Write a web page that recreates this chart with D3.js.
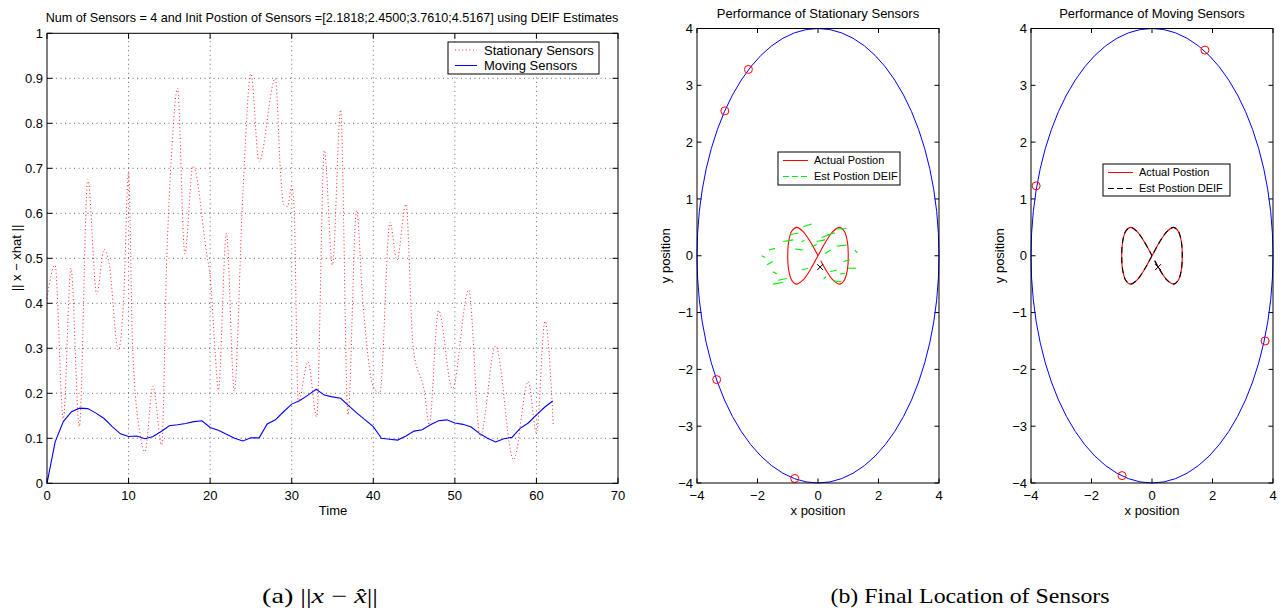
<!DOCTYPE html>
<html><head><meta charset="utf-8">
<script src="https://cdn.jsdelivr.net/npm/d3@7"></script>
<style>
body{margin:0;background:#fff}
svg{display:block}
text{font-family:"Liberation Sans",Arial,Helvetica,sans-serif;fill:#000}
</style>
</head><body>
<svg id="c" width="1281" height="611"></svg>
<script>
// ---------- DATA ----------
const leftXTicks = [0,10,20,30,40,50,60,70];
const leftYTicks = [0,0.1,0.2,0.3,0.4,0.5,0.6,0.7,0.8,0.9,1];
const posTicksX = [-4,-2,0,2,4];
const posTicksY = [-4,-3,-2,-1,0,1,2,3,4];

// Moving sensors error, one value per time step 0..62
const movingV = [0,0.092,0.137,0.159,0.167,0.166,0.156,0.144,0.126,0.11,0.104,0.105,0.099,0.104,0.115,0.128,0.13,0.133,0.137,0.139,0.124,0.118,0.109,0.100,0.094,0.101,0.101,0.132,0.141,0.159,0.176,0.184,0.196,0.209,0.196,0.192,0.189,0.172,0.156,0.141,0.126,0.100,0.098,0.096,0.105,0.116,0.119,0.130,0.139,0.141,0.134,0.131,0.125,0.111,0.100,0.092,0.099,0.102,0.122,0.134,0.152,0.169,0.183];

// Stationary sensors error (time, value) read at turning points
const stationaryT = [0,0.98,2.0,2.94,3.96,5.0,6.1,7.0,7.6,8.75,9.4,10.0,10.5,11.4,12.0,13.0,14.06,14.7,15.3,16.0,16.9,17.9,19.6,20.0,20.6,21.0,22.0,22.96,24.0,25.0,26.0,28.0,28.6,29.0,29.5,30.0,30.3,30.8,32.0,33.06,34.0,35.0,36.0,36.9,37.95,38.7,40.0,40.8,42.05,42.9,44.0,44.9,46.3,46.85,48.0,49.7,51.7,53.1,55.0,57.2,59.0,60.0,61.05,62.07];
const stationaryV = [0.41,0.485,0.144,0.478,0.126,0.675,0.42,0.52,0.49,0.296,0.41,0.69,0.30,0.11,0.07,0.216,0.085,0.51,0.74,0.878,0.51,0.705,0.507,0.46,0.296,0.207,0.556,0.205,0.64,0.91,0.715,0.90,0.70,0.62,0.615,0.66,0.61,0.18,0.27,0.148,0.74,0.485,0.83,0.152,0.607,0.41,0.215,0.2,0.58,0.496,0.62,0.30,0.2,0.13,0.384,0.21,0.43,0.104,0.305,0.052,0.226,0.112,0.36,0.13];

// Actual target trajectory (figure eight)
const actualX = [0.09,0.26,0.5,0.71,0.87,0.97,1.0,0.97,0.87,0.71,0.5,0.26,0,-0.26,-0.5,-0.71,-0.87,-0.97,-1.0,-0.97,-0.87,-0.71,-0.5,-0.26,0];
const actualY = [-0.09,-0.25,-0.43,-0.5,-0.43,-0.25,0,0.25,0.43,0.5,0.43,0.25,0,-0.25,-0.43,-0.5,-0.43,-0.25,0,0.25,0.43,0.5,0.43,0.25,0];

// DEIF estimate with stationary sensors: visible dash pieces (x1,y1,x2,y2)
const estStatSegs = [
 [-0.49,0.51,-0.21,0.56],[-0.93,0.37,-0.65,0.40],[-1.15,0.25,-0.82,0.28],[-1.62,0.10,-1.42,0.13],
 [-1.86,0.0,-1.75,-0.03],[-1.68,-0.16,-1.5,-0.10],[-1.49,-0.28,-1.36,-0.32],[-1.32,-0.43,-1.03,-0.40],
 [-1.49,-0.50,-1.16,-0.47],[-0.76,0.12,-0.49,0.10],[-0.54,-0.25,-0.32,-0.22],[-0.55,0.25,-0.45,0.27],
 [-0.21,0.16,-0.04,0.2],[-0.04,0.25,0.23,0.28],[0.12,0.32,0.37,0.37],[0.31,0.37,0.56,0.40],
 [0.62,0.47,0.95,0.48],[0.23,0.04,0.42,0.10],[0.62,0.17,0.95,0.19],[1.22,0.10,1.30,0.05],
 [0.84,-0.10,1.06,-0.07],[1.0,-0.22,1.26,-0.22],[0.40,-0.28,0.62,-0.25],[0.18,-0.41,0.26,-0.37],
 [0.51,-0.44,0.78,-0.46],[0.73,-0.32,0.89,-0.31]
];
const estStatFinal = [0.07,-0.2];
const estMovFinal = [0.2,-0.2];

// Sensor final positions
const statSensorX = [-2.30,-3.08,-3.35,-0.77];
const statSensorY = [3.28,2.55,-2.18,-3.92];
const movSensorX = [1.75,-3.83,3.74,-0.99];
const movSensorY = [3.62,1.23,-1.50,-3.87];
const circleR = 4;

// ---------- DRAW ----------
const svg = d3.select("#c");
const FS = 13;
const minus = v => String(v).replace("-", "\u2212");

function frame(g, x, y, xt, yt, tl, grid, fx, fy) {
  const [x0,x1] = x.range(), [y0,y1] = y.range();
  if (grid) {
    xt.filter(v => v!==x.domain()[0] && v!==x.domain()[1]).forEach(v => {
      g.append("line").attr("x1",x(v)).attr("x2",x(v)).attr("y1",y0).attr("y2",y1)
        .attr("stroke","#000").attr("stroke-width",0.8).attr("stroke-opacity",0.75).attr("stroke-dasharray","1 3.5");
    });
    yt.filter(v => v!==y.domain()[0] && v!==y.domain()[1]).forEach(v => {
      g.append("line").attr("y1",y(v)).attr("y2",y(v)).attr("x1",x0).attr("x2",x1)
        .attr("stroke","#000").attr("stroke-width",0.8).attr("stroke-opacity",0.75).attr("stroke-dasharray","1 3.5");
    });
  }
  xt.forEach(v => {
    g.append("line").attr("x1",x(v)).attr("x2",x(v)).attr("y1",y0).attr("y2",y0-tl).attr("stroke","#000");
    g.append("line").attr("x1",x(v)).attr("x2",x(v)).attr("y1",y1).attr("y2",y1+tl).attr("stroke","#000");
    g.append("text").attr("x",x(v)).attr("y",y0+17).attr("text-anchor","middle").attr("font-size",FS).text(fx(v));
  });
  yt.forEach(v => {
    g.append("line").attr("y1",y(v)).attr("y2",y(v)).attr("x1",x0).attr("x2",x0+tl).attr("stroke","#000");
    g.append("line").attr("y1",y(v)).attr("y2",y(v)).attr("x1",x1).attr("x2",x1-tl).attr("stroke","#000");
    g.append("text").attr("x",x0-4).attr("y",y(v)).attr("dy","0.36em").attr("text-anchor","end").attr("font-size",FS).text(fy(v));
  });
}
function box(g, x, y) {
  const [x0,x1] = x.range(), [y0,y1] = y.range();
  g.append("rect").attr("x",x0).attr("y",y1).attr("width",x1-x0).attr("height",y0-y1)
    .attr("fill","none").attr("stroke","#000").attr("stroke-width",1);
}

// ----- Left chart -----
const gL = svg.append("g");
const xL = d3.scaleLinear().domain([0,70]).range([47,618]);
const yL = d3.scaleLinear().domain([0,1]).range([483.3,33.3]);
frame(gL, xL, yL, leftXTicks, leftYTicks, 5.5, true, v=>String(v), v=>String(v));

const stPts = stationaryT.map((t,i)=>[t, stationaryV[i]]);
gL.append("path").attr("d", d3.line().x(d=>xL(d[0])).y(d=>yL(d[1])).curve(d3.curveMonotoneX)(stPts))
  .attr("fill","none").attr("stroke","#ff2020").attr("stroke-width",1).attr("stroke-dasharray","1 2.6");
gL.append("path").attr("d", d3.line().x((d,i)=>xL(i)).y(d=>yL(d))(movingV))
  .attr("fill","none").attr("stroke","#0000ff").attr("stroke-width",1.1);
box(gL, xL, yL);

gL.append("text").attr("x",332).attr("y",22).attr("text-anchor","middle").attr("font-size",12.6)
  .text("Num of Sensors = 4 and Init Postion of Sensors =[2.1818;2.4500;3.7610;4.5167] using DEIF Estimates");
gL.append("text").attr("x",333).attr("y",515).attr("text-anchor","middle").attr("font-size",FS).text("Time");
gL.append("text").attr("transform","translate(21,258) rotate(-90)").attr("text-anchor","middle").attr("font-size",FS)
  .text("|| x \u2212 xhat ||");

// legend
const lg = gL.append("g");
lg.append("rect").attr("x",448).attr("y",42).attr("width",151).attr("height",32).attr("fill","#fff").attr("stroke","#000");
lg.append("line").attr("x1",455).attr("x2",477).attr("y1",50).attr("y2",50).attr("stroke","#ff2020").attr("stroke-dasharray","1 2.6");
lg.append("line").attr("x1",455).attr("x2",477).attr("y1",65.5).attr("y2",65.5).attr("stroke","#0000ff");
lg.append("text").attr("x",484).attr("y",50).attr("dy","0.36em").attr("font-size",FS).text("Stationary Sensors");
lg.append("text").attr("x",484).attr("y",65.5).attr("dy","0.36em").attr("font-size",FS).text("Moving Sensors");

// ----- Position charts -----
function posChart(x0, x1, title, sx, sy, estColor, drawEst, finalPt, legendBox) {
  const g = svg.append("g");
  const x = d3.scaleLinear().domain([-4,4]).range([x0,x1]);
  const y = d3.scaleLinear().domain([-4,4]).range([483,28.5]);
  frame(g, x, y, posTicksX, posTicksY, 4.5, false, minus, minus);
  g.append("ellipse").attr("cx",x(0)).attr("cy",y(0)).attr("rx",x(4)-x(0)).attr("ry",y(0)-y(4))
    .attr("fill","none").attr("stroke","#0000ff").attr("stroke-width",1);
  const act = actualX.map((v,i)=>[v, actualY[i]]);
  const ln = d3.line().x(d=>x(d[0])).y(d=>y(d[1])).curve(d3.curveCatmullRom.alpha(0.5));
  g.append("path").attr("d", ln(act)).attr("fill","none").attr("stroke","#ff0000").attr("stroke-width",1.1);
  drawEst(g, x, y, act, ln);
  g.append("path").attr("transform",`translate(${x(finalPt[0])},${y(finalPt[1])})`)
    .attr("d","M-3,-3L3,3M-3,3L3,-3").attr("stroke","#000").attr("stroke-width",1);
  sx.forEach((v,i)=>{
    g.append("circle").attr("cx",x(v)).attr("cy",y(sy[i])).attr("r",circleR)
      .attr("fill","none").attr("stroke","#ff0000").attr("stroke-width",1);
  });
  box(g, x, y);
  g.append("text").attr("x",x(0)).attr("y",18).attr("text-anchor","middle").attr("font-size",FS).text(title);
  g.append("text").attr("x",x(0)).attr("y",515).attr("text-anchor","middle").attr("font-size",FS).text("x position");
  g.append("text").attr("transform",`translate(${x0-27},${y(0)}) rotate(-90)`).attr("text-anchor","middle").attr("font-size",FS).text("y position");
  // legend
  const [bx,by,bw,bh] = legendBox;
  g.append("rect").attr("x",bx).attr("y",by).attr("width",bw).attr("height",bh).attr("fill","#fff").attr("stroke","#000");
  g.append("line").attr("x1",bx+5).attr("x2",bx+30).attr("y1",by+8.5).attr("y2",by+8.5).attr("stroke","#ff0000");
  g.append("line").attr("x1",bx+5).attr("x2",bx+30).attr("y1",by+24.5).attr("y2",by+24.5).attr("stroke",estColor).attr("stroke-dasharray","6 3");
  g.append("text").attr("x",bx+36).attr("y",by+8.5).attr("dy","0.36em").attr("font-size",11).text("Actual Postion");
  g.append("text").attr("x",bx+36).attr("y",by+24.5).attr("dy","0.36em").attr("font-size",11).text("Est Postion DEIF");
}

posChart(697, 939, "Performance of Stationary Sensors", statSensorX, statSensorY, "#00ee00",
  (g,x,y)=>{
    const segLine = d3.line().x(d=>x(d[0])).y(d=>y(d[1]));
    estStatSegs.forEach(s=>{
      g.append("path").attr("d", segLine([[s[0],s[1]],[s[2],s[3]]]))
        .attr("fill","none").attr("stroke","#00ee00").attr("stroke-width",1.1);
    });
  }, estStatFinal, [778,152,122,33]);

posChart(1031, 1273, "Performance of Moving Sensors", movSensorX, movSensorY, "#000",
  (g,x,y,act,ln)=>{
    g.append("path").attr("d", ln(act)).attr("fill","none").attr("stroke","#000").attr("stroke-width",1.1).attr("stroke-dasharray","6 4");
  }, estMovFinal, [1103,164,127,32]);

// ----- Captions -----
const capA = svg.append("text").attr("x",320).attr("y",603).attr("text-anchor","middle")
  .style("font-family","'Liberation Serif','Times New Roman',serif").attr("font-size",21)
  .attr("textLength",116).attr("lengthAdjust","spacingAndGlyphs");
capA.append("tspan").text("(a) ||");
capA.append("tspan").attr("font-style","italic").text("x");
capA.append("tspan").text(" \u2212 ");
capA.append("tspan").attr("font-style","italic").text("x\u0302");
capA.append("tspan").text("||");
svg.append("text").attr("x",970).attr("y",603).attr("text-anchor","middle")
  .style("font-family","'Liberation Serif','Times New Roman',serif").attr("font-size",21)
  .attr("textLength",279).attr("lengthAdjust","spacingAndGlyphs").text("(b) Final Location of Sensors");
</script>
</body></html>
